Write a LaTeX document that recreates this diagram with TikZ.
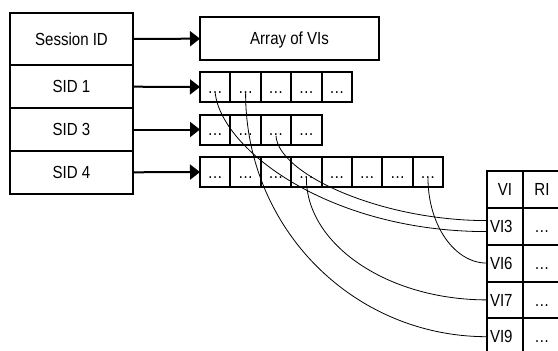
\documentclass[tikz,border=0pt]{standalone}
\usepackage{fontspec}
\setmainfont{Liberation Sans}[FakeStretch=0.86]
\usetikzlibrary{arrows.meta,positioning}

\tikzset{
    idbox/.style={draw, line width=2pt, outer sep=0pt, inner sep=0pt,
        minimum width=123pt, minimum height=43pt},
    cell/.style={draw, line width=2pt, outer sep=0pt, inner sep=0pt,
        minimum width=30.4pt, minimum height=30pt},
    vicell/.style={draw, line width=2pt, outer sep=0pt, inner sep=3pt,
        text width=30pt, align=left, minimum height=36.8pt},
    ricell/.style={draw, line width=2pt, outer sep=0pt, inner sep=0pt,
        minimum width=38pt, minimum height=36.8pt},
    ptr/.style={line width=2pt, -{Triangle[length=10pt, width=15pt]}},
    link/.style={line width=0.8pt},
}

\begin{document}
\begin{tikzpicture}[x=1pt, y=-1pt,
    every node/.style={font=\fontsize{17.5}{20}\selectfont,
        text height=12.5pt, text depth=0pt}]

    \useasboundingbox (0, 0) rectangle (558, 351);
    \clip (0, 0) rectangle (558, 351);

    % Session table
    \node[idbox, minimum height=52pt] (sesid) at (71.5, 39) {Session ID};
    \node[idbox, below=0pt of sesid] (sid1) {SID 1};
    \node[idbox, below=0pt of sid1] (sid3) {SID 3};
    \node[idbox, below=0pt of sid3] (sid4) {SID 4};

    % Header of the arrays
    \node[draw, line width=2pt, outer sep=0pt, minimum width=179pt,
        minimum height=43pt] (vis) at (289.5, 38.5) {Array of VIs};

    % Arrays of VIs, one per session
    \node[cell] (s1c1) at (215.2, 87) {…};
    \foreach \i [count=\j from 2] in {1,...,4}
        \node[cell, right=0pt of s1c\i] (s1c\j) {…};

    \node[cell] (s3c1) at (215.2, 129.5) {…};
    \foreach \i [count=\j from 2] in {1,...,3}
        \node[cell, right=0pt of s3c\i] (s3c\j) {…};

    \node[cell] (s4c1) at (215.2, 172) {…};
    \foreach \i [count=\j from 2] in {1,...,7}
        \node[cell, right=0pt of s4c\i] (s4c\j) {…};

    % VI / RI table
    \node[draw, line width=2pt, outer sep=0pt, inner sep=0pt, minimum width=36pt,
        minimum height=36.8pt] (vihead) at (505, 189.5) {VI};
    \node[ricell, right=0pt of vihead] (rihead) {RI};
    \node[vicell, below=0pt of vihead] (vi3) {VI3};
    \node[vicell, below=0pt of vi3] (vi6) {VI6};
    \node[vicell, below=0pt of vi6] (vi7) {VI7};
    \node[vicell, below=0pt of vi7] (vi9) {VI9};
    \node[ricell, below=0pt of rihead] (ri3) {…};
    \node[ricell, below=0pt of ri3] (ri6) {…};
    \node[ricell, below=0pt of ri6] (ri7) {…};
    \node[ricell, below=0pt of ri7] (ri9) {…};

    % Pointers from the sessions
    \draw[ptr] (sesid) -- (vis);
    \draw[ptr] (sid1) -- (s1c1);
    \draw[ptr] (sid3) -- (s3c1);
    \draw[ptr] (sid4) -- (s4c1);

    % Entries referring to the VI table
    \draw[link] (s3c3.base) .. controls +(2, 38) and +(-107, 0) .. ([yshift=5.7pt]vi3.west);
    \draw[link] (s1c1.base) .. controls +(7, 57) and +(-157, 0) .. ([yshift=-5.3pt]vi3.west);
    \draw[link] (s4c8.base) .. controls +(0, 46) and +(-33, 0) .. (vi6.west);
    \draw[link] (s4c4.base) .. controls +(0, 66) and +(-100, 0) .. (vi7.west);
    \draw[link] (s1c2.base) .. controls +(0, 135) and +(-134, 0) .. (vi9.west);

\end{tikzpicture}
\end{document}
